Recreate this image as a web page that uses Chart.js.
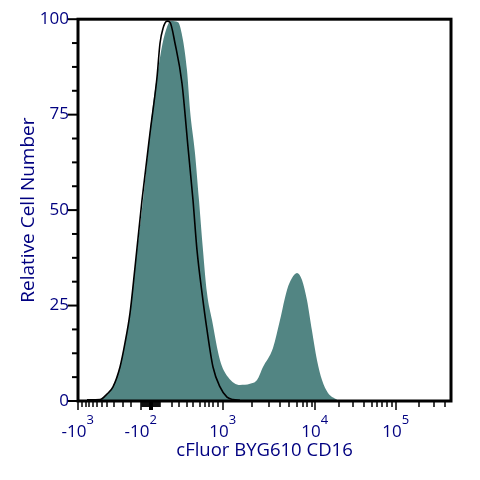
<!DOCTYPE html>
<html><head><meta charset="utf-8">
<style>html,body{margin:0;padding:0;background:#fff}canvas{display:block}</style>
<script src="https://cdn.jsdelivr.net/npm/chart.js@4"></script></head>
<body><canvas id="c" width="480" height="480"></canvas>
<script>
const fillChannels=[22,28,35,42,47,52,57,65,74,82,87,93,100,105,109,112,117,121,125,129,134,142,150,162,172,179,185,195,202,209,214,219,224,229,234,239,244,250,259];
const fillCounts=[0.3,1.3,3.7,8.9,15.2,23,35,52.6,75.4,90,96.3,99.5,99.2,94.5,86.6,76.2,64.9,52.6,39.5,28.3,21.2,10.7,6.3,4.2,4.5,5.5,8.9,13.9,21.2,29.1,32.2,33.5,31.7,26.4,18.4,10.7,5.5,2.1,0.3];
const lineChannels=[9,22,24,29,35,42,47,52,57,64,72,79,82,85,89,92,97,104,110,115,119,124,129,135,142,149,155,162];
const lineCounts=[0.3,0.4,0.6,1.8,3.7,8.9,15.2,23,35,52.6,70.2,84.8,93.7,97.6,99.5,99.2,93.7,83.2,66.5,52.6,39.5,28.3,18.6,8.9,3.7,1,0.4,0.2];
const xMajorTicks=[0,63,145,237,318];
const xBases=['-10','-10','10','10','10'];
const xExponents=['3','2','3','4','5'];
const xZeroTick=[73];
const xMinorTicks=[4,8,11,15,19,24,29,36,45,53,64,65,66,67,68,69,70,71,72,74,75,76,77,78,79,80,81,82,94,101,109,115,122,127,131,135,140,174,191,202,211,219,225,229,234,261,275,286,294,299,304,309,314,341,356,367];
const yMajorTicks=[0,25,50,75,100];
const yMinorTicks=[6.25,12.5,18.75,31.25,37.5,43.75,56.25,62.5,68.75,81.25,87.5,93.75];
const xAxisTitle='cFluor BYG610 CD16';
const yAxisTitle='Relative Cell Number';
const ink='#000080', FONT='"Open Sans"';
const LABEL_SHIFT=-4;
const toPts=(xs,ys)=>xs.map((x,i)=>({x,y:ys[i]}));
const frame={id:'frame',afterDatasetsDraw(ch){
  const {ctx,chartArea:a,scales:{x,y}}=ch;
  ctx.save();ctx.strokeStyle='#000';
  ctx.lineWidth=3;ctx.strokeRect(a.left,a.top,a.right-a.left,a.bottom-a.top);
  const vt=(v,len,w)=>{const p=x.getPixelForValue(v);ctx.lineWidth=w;ctx.beginPath();ctx.moveTo(p,a.bottom);ctx.lineTo(p,a.bottom+len);ctx.stroke();};
  const ht=(v,len)=>{const p=y.getPixelForValue(v);ctx.lineWidth=2;ctx.beginPath();ctx.moveTo(a.left,p);ctx.lineTo(a.left-len,p);ctx.stroke();};
  xMinorTicks.forEach(v=>vt(v,6,1.5));
  xMajorTicks.forEach(v=>vt(v,9,1.5));
  xZeroTick.forEach(v=>vt(v,9,4));
  yMinorTicks.forEach(v=>ht(v,6));
  yMajorTicks.forEach(v=>ht(v,10));
  ctx.fillStyle=ink;ctx.textAlign='left';ctx.textBaseline='alphabetic';
  xMajorTicks.forEach((v,i)=>{
    ctx.font='17px '+FONT;
    const w=ctx.measureText(xBases[i]).width;
    ctx.font='13px '+FONT;
    ctx.fillText(xExponents[i],x.getPixelForValue(v)+LABEL_SHIFT+w/2,424);
  });
  ctx.restore();
}};
new Chart(document.getElementById('c'),{
  type:'line',
  data:{datasets:[
    {data:toPts(lineChannels,lineCounts),borderColor:'#000',borderWidth:1.6,pointRadius:0,cubicInterpolationMode:'monotone',fill:false,order:0},
    {data:toPts(fillChannels,fillCounts),borderColor:'#528583',backgroundColor:'#528583',borderWidth:0,pointRadius:0,cubicInterpolationMode:'monotone',fill:'origin',order:1}
  ]},
  options:{
    responsive:false,animation:false,
    layout:{padding:{top:19,right:29,left:0,bottom:0}},
    plugins:{legend:{display:false},tooltip:{enabled:false}},
    scales:{
      x:{type:'linear',min:0,max:373,
        afterFit(s){s.height=79;},
        afterBuildTicks(s){s.ticks=xMajorTicks.map(value=>({value}));},
        grid:{display:false,drawTicks:false},border:{display:false},
        ticks:{autoSkip:false,maxRotation:0,padding:21,labelOffset:LABEL_SHIFT,color:ink,font:{family:FONT,size:17},
          callback:(v)=>xBases[xMajorTicks.indexOf(v)]},
        title:{display:true,text:xAxisTitle,color:ink,font:{family:FONT,size:18.5},padding:{top:0,bottom:18}}
      },
      y:{type:'linear',min:0,max:100,
        afterFit(s){s.width=78;},
        afterBuildTicks(s){s.ticks=yMajorTicks.map(value=>({value}));},
        grid:{display:false,drawTicks:false},border:{display:false},
        ticks:{padding:9,color:ink,font:{family:FONT,size:17}},
        title:{display:true,text:yAxisTitle,color:ink,font:{family:FONT,size:19},padding:{top:17,bottom:0}}
      }
    }
  },
  plugins:[frame]
});
</script></body></html>
